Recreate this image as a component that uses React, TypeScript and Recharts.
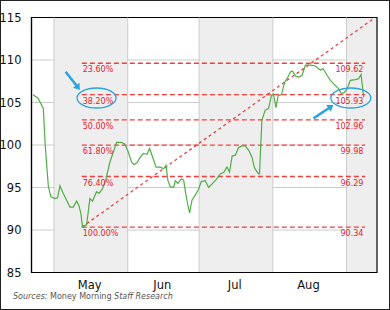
import { LineChart, Line, XAxis, YAxis, CartesianGrid, ReferenceArea, ReferenceLine, ReferenceDot } from "recharts"

// day index, May 1 = 0
const days = [
  -8.8, -6.7, -4.5, -3.6, -2.4, -1.3, 0.4, 1.5, 2.5, 3.9, 5.3, 6.7, 8.1, 9.5, 10.5, 11.3, 12.0, 13.7, 15.1,
  16.2, 17.9, 18.9, 20.3, 21.7, 23.5, 25.0, 26.3, 28.4, 29.8, 31.2, 32.6, 33.6, 34.9, 36.3, 37.6, 39.1, 40.2,
  41.2, 42.9, 44.7, 46.1, 47.1, 47.9, 48.9, 50.3, 51.0, 52.1, 53.5, 54.5, 55.2, 55.9, 57.0, 58.0, 59.4, 60.8,
  61.9, 63.6, 65.0, 66.4, 68.1, 69.9, 71.4, 72.7, 73.8, 74.9, 76.2, 77.6, 79.0, 80.4, 81.8, 83.2, 84.3, 86.0,
  86.4, 87.4, 88.8, 90.2, 91.4, 92.3, 93.3, 94.2, 95.6, 97.0, 98.0, 99.4, 100.3, 101.5, 102.9, 104.3, 105.7,
  107.8, 109.9, 112.0, 113.1, 114.8, 116.2, 117.6, 119.7, 120.7, 121.8, 123.2, 124.6, 126.7, 128.1, 129.1, 130.2,
]
const prices = [
  105.9, 105.5, 104.3, 99.6, 95.2, 93.9, 93.7, 93.8, 95.2, 94.3, 93.5, 92.7, 92.7, 93.4, 92.9, 91.9, 90.4, 90.6, 93.7,
  93.4, 94.5, 94.3, 94.8, 95.8, 98.0, 99.2, 100.3, 100.3, 100.1, 99.2, 98.0, 97.7, 97.9, 98.6, 99.0, 98.9, 99.6,
  98.8, 97.4, 97.4, 97.2, 97.6, 95.8, 95.1, 95.0, 95.8, 95.5, 96.0, 95.9, 94.6, 93.5, 92.0, 93.5, 94.1, 94.8,
  95.7, 95.8, 95.0, 95.4, 95.9, 96.6, 96.8, 97.4, 96.8, 98.7, 98.8, 99.7, 99.9, 99.9, 99.4, 98.6, 97.3, 96.6,
  96.6, 102.9, 104.1, 104.3, 105.8, 106.0, 104.4, 105.8, 105.9, 107.4, 107.8, 108.6, 108.7, 108.1, 108.0, 108.2, 109.4,
  109.4, 109.3, 108.8, 109.0, 108.2, 107.6, 107.2, 106.6, 106.1, 106.1, 106.6, 107.6, 107.7, 107.8, 108.3, 105.6,
]

const fibPct = ["23.60%", "38.20%", "50.00%", "61.80%", "76.40%", "100.00%"]
const fibLevels = [109.62, 105.93, 102.96, 99.98, 96.29, 90.34]

const monthStarts = [0, 31, 61, 92, 123]
const shadedBands = [
  [0, 31],
  [61, 92],
  [123, 135.8],
]
const monthTicks = [15, 45.5, 76, 107]
const monthLabels = ["May", "Jun", "Jul", "Aug"]
const yTicks = [85, 90, 95, 100, 105, 110, 115]

const X_MIN = -9.46
const X_MAX = 135.8
const RED = "#ec4040"
const LABEL_RED = "#e8222a"
const BLUE = "#2aa4dc"
const GRID = "#cccccc"

const data = days.map((d, i) => ({ day: d, price: prices[i] }))

function Arrow(props: any, dx: number, dy: number) {
  const { cx, cy } = props
  const tx = cx + dx
  const ty = cy + dy
  const len = Math.hypot(dx, dy)
  const ux = -dx / len
  const uy = -dy / len
  const hx = cx - ux * 6
  const hy = cy - uy * 6
  return (
    <g>
      <line x1={tx} y1={ty} x2={cx - ux * 4} y2={cy - uy * 4} stroke={BLUE} strokeWidth={2.5} />
      <polygon points={`${cx},${cy} ${hx - uy * 4},${hy + ux * 4} ${hx + uy * 4},${hy - ux * 4}`} fill={BLUE} />
    </g>
  )
}

export default function App() {
  return (
    <div style={{ position: "absolute", left: 0, top: 0, width: 390, height: 310, background: "#fff" }}>
      <LineChart
        width={390}
        height={310}
        data={data}
        margin={{ top: 17.5, right: 13, left: 0.5, bottom: 17.5 }}
      >
        {shadedBands.map(([a, b], i) => (
          <ReferenceArea key={"b" + i} x1={a} x2={b} y1={85} y2={115} fill="#eeeeee" fillOpacity={1} stroke="none" />
        ))}
        <CartesianGrid vertical={false} stroke={GRID} strokeWidth={1} />
        {monthStarts.map((m) => (
          <ReferenceLine key={"m" + m} x={m} stroke={GRID} strokeWidth={1} />
        ))}

        {fibLevels.map((lv, i) => (
          <ReferenceLine
            key={"f" + i}
            segment={[
              { x: 11.7, y: lv },
              { x: 130.8, y: lv },
            ]}
            stroke={RED}
            strokeWidth={1.4}
            strokeDasharray="5 3"
          />
        ))}
        <ReferenceLine
          segment={[
            { x: 11.7, y: 90.34 },
            { x: 135, y: 115 },
          ]}
          stroke={RED}
          strokeWidth={1.3}
          strokeDasharray="3 3"
        />

        {fibLevels.map((lv, i) => (
          <ReferenceDot
            key={"lp" + i}
            x={12.1}
            y={lv}
            r={0}
            shape={(p: any) => (
              <text x={p.cx} y={p.cy + 9} fill={LABEL_RED} fontSize={8} fontFamily="DejaVu Sans">
                {fibPct[i]}
              </text>
            )}
          />
        ))}
        {fibLevels.map((lv, i) => (
          <ReferenceDot
            key={"lv" + i}
            x={130.1}
            y={lv}
            r={0}
            shape={(p: any) => (
              <text x={p.cx} y={p.cy + 9} fill={LABEL_RED} fontSize={8} fontFamily="DejaVu Sans" textAnchor="end">
                {lv.toFixed(2)}
              </text>
            )}
          />
        ))}

        <XAxis
          type="number"
          dataKey="day"
          domain={[X_MIN, X_MAX]}
          ticks={monthTicks}
          tickFormatter={(v: number) => monthLabels[monthTicks.indexOf(v)] ?? ""}
          allowDataOverflow
          height={20}
          tickLine={false}
          axisLine={{ stroke: "#000", strokeWidth: 1.2 }}
          tick={{ fontSize: 11.5, fill: "#111", fontFamily: "DejaVu Sans" }}
          tickMargin={2}
        />
        <YAxis
          type="number"
          domain={[85, 115]}
          ticks={yTicks}
          width={31}
          tickLine={false}
          axisLine={{ stroke: "#000", strokeWidth: 1.2 }}
          tick={{ fontSize: 11.5, fill: "#111", fontFamily: "DejaVu Sans" }}
          tickMargin={4}
        />

        <Line
          type="linear"
          dataKey="price"
          stroke="#52ad47"
          strokeWidth={1.2}
          dot={false}
          isAnimationActive={false}
        />

        <ReferenceArea x1={X_MIN} x2={X_MAX} y1={85} y2={115} fill="none" stroke="#000" strokeWidth={1.2} />

        <ReferenceDot
          x={17.9}
          y={105.53}
          r={0}
          shape={(p: any) => <ellipse cx={p.cx} cy={p.cy} rx={19.5} ry={10} fill="none" stroke={BLUE} strokeWidth={1.3} />}
        />
        <ReferenceDot
          x={124.8}
          y={105.53}
          r={0}
          shape={(p: any) => <ellipse cx={p.cx} cy={p.cy} rx={20} ry={10} fill="none" stroke={BLUE} strokeWidth={1.3} />}
        />
        <ReferenceDot x={10.9} y={106.47} r={0} shape={(p: any) => Arrow(p, -14.3, -18.3)} />
        <ReferenceDot x={117.5} y={104.7} r={0} shape={(p: any) => Arrow(p, -20, 13.3)} />
      </LineChart>
      <div
        style={{
          position: "absolute",
          left: 13,
          top: 292,
          fontFamily: "DejaVu Sans",
          fontSize: 8,
          color: "#555",
          whiteSpace: "nowrap",
        }}
      >
        <i>Sources:</i> Money Morning <i>Staff Research</i>
      </div>
      <div
        style={{
          position: "absolute",
          left: 0,
          top: 0,
          width: 390,
          height: 310,
          boxSizing: "border-box",
          border: "1px solid #222",
          pointerEvents: "none",
        }}
      />
    </div>
  )
}
